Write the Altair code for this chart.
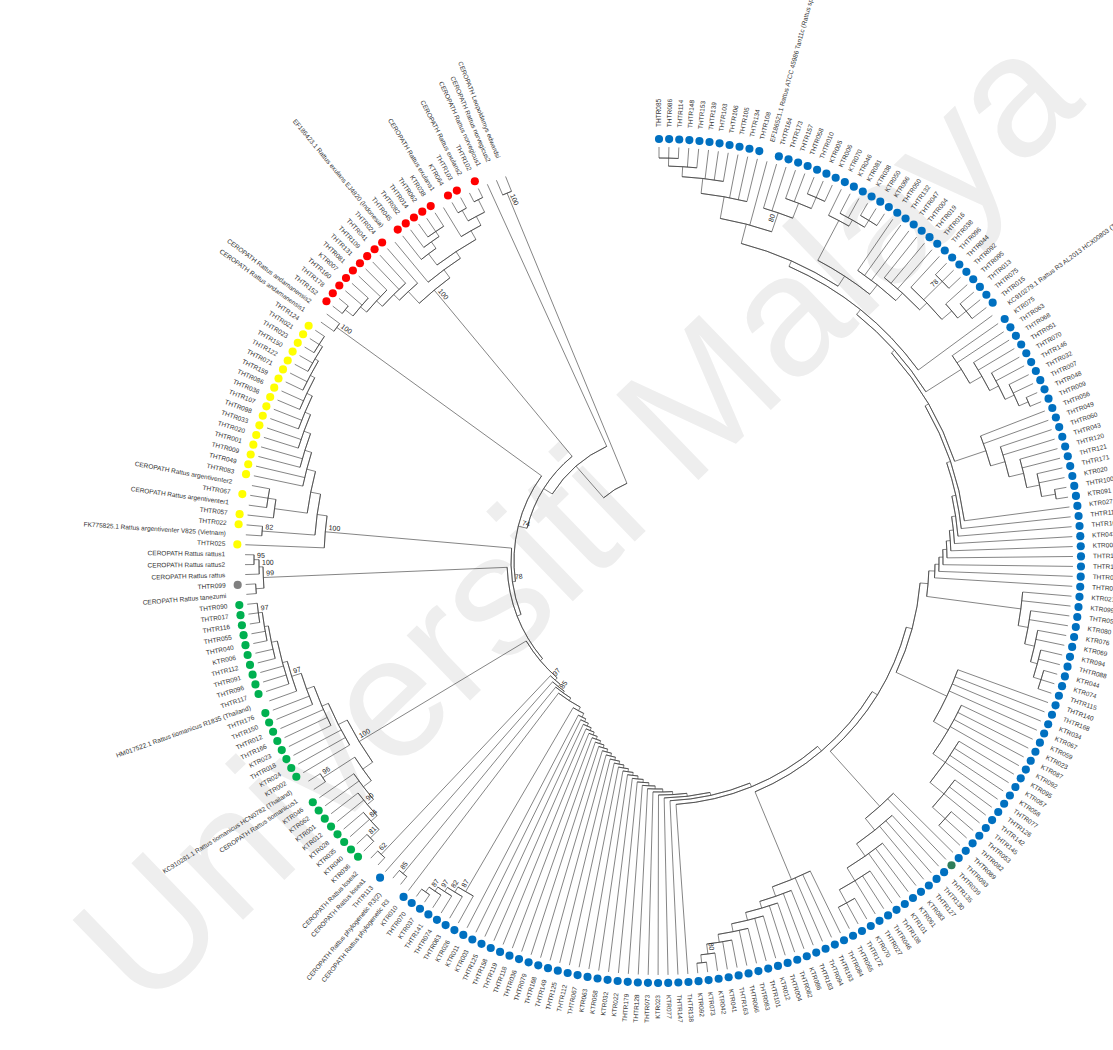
import math
import altair as alt
import pandas as pd

# ---------------- leaves, clockwise from 12 o'clock ----------------
BLUE_TOP = ["THTR085", "THTR086", "THTR114", "THTR148", "THTR153", "THTR139", "THTR103",
            "THTR106", "THTR105", "THTR134", "THTR108"]
REF_EF_SP = ["EF186521.1 Rattus ATCC 45986 Tan11c (Rattus sp)"]
BLUE_UPPER_RIGHT = ["THTR164", "THTR173", "THTR157", "THTR058", "THTR010", "KTR005", "KTR006",
                    "KTR070", "KTR046", "KTR081", "KTR038", "KTR050", "KTR096", "THTR050", "THTR132",
                    "THTR047", "THTR004", "THTR019", "THTR016", "THTR038", "THTR096", "THTR044",
                    "THTR092", "THTR095", "THTR013", "THTR075", "THTR015"]
REF_KC = ["KC910279.1 Rattus R3 AL2013 HCX00803 (Thailand)"]
BLUE_RIGHT = ["KTR075", "THTR063", "THTR068", "THTR051", "THTR070", "THTR146", "THTR032", "THTR007",
              "THTR048", "THTR009", "THTR056", "THTR049", "THTR060", "THTR043", "THTR120", "THTR121",
              "THTR171", "KTR020", "THTR100", "KTR091", "KTR027", "THTR110", "THTR167", "KTR043",
              "KTR004", "THTR180", "THTR104", "THTR079", "THTR080", "KTR021", "KTR099", "THTR054",
              "KTR080", "KTR076", "KTR069", "KTR094", "THTR088", "KTR044", "KTR074", "THTR115"]
BLUE_LOWER_RIGHT_A = ["THTR140", "THTR168", "KTR034", "KTR067", "KTR059", "KTR023", "KTR087",
                      "KTR092", "KTR095", "KTR057", "KTR058", "THTR077", "THTR126", "THTR142",
                      "THTR145", "THTR053", "THTR082", "THTR089", "THTR093"]
BLUE_ODD = ["THTR039"]
BLUE_LOWER_RIGHT_B = ["THTR135", "THTR130", "THTR127", "KTR083", "KTR061", "KTR101", "THTR108",
                      "THTR046", "THTR027", "KTR070", "THTR172", "THTR065", "THTR084", "THTR163",
                      "THTR094", "THTR183", "KTR086", "THTR082", "THTR004", "KTR012", "THTR101",
                      "THTR083", "THTR066", "THTR163", "KTR041", "KTR042", "KTR073", "KTR092"]
BLUE_BOTTOM = ["THTR138", "THTR147", "KTR077", "KTR023", "THTR073", "THTR128", "THTR179", "KTR022",
               "KTR032", "KTR058", "KTR063", "THTR067", "THTR112", "THTR125", "THTR149", "THTR168",
               "THTR079", "THTR036", "THTR118", "THTR119", "THTR158", "THTR125", "KTR003", "KTR011",
               "KTR026", "THTR063", "THTR074", "THTR141", "KTR037", "THTR070", "KTR010"]
REF_R3 = ["CEROPATH Rattus phylogenetic R3", "CEROPATH Rattus phylogenetic R3(2)"]
BLUE_LONE = ["THTR113"]
REF_LOSEA = ["CEROPATH Rattus losea1", "CEROPATH Rattus losea2"]
GREEN_A = ["KTR036", "KTR040", "KTR035", "KTR028", "KTR012", "KTR001", "KTR062", "KTR046"]
REF_TIO = ["CEROPATH Rattus tiomanicus1", "KC910281.1 Rattus tiomanicus HCN0782 (Thailand)"]
GREEN_B = ["KTR002", "KTR024", "THTR018", "KTR023", "THTR166", "THTR012", "THTR150", "THTR176"]
REF_HM = ["HM017522.1 Rattus tiomanicus R1835 (Thailand)"]
GREEN_C = ["THTR117", "THTR096", "THTR091", "THTR112", "KTR006", "THTR040", "THTR055", "THTR116",
           "THTR017", "THTR090"]
REF_TAN = ["CEROPATH Rattus tanezumi"]
GREY = ["THTR099"]
REF_RAT = ["CEROPATH Rattus rattus", "CEROPATH Rattus rattus2", "CEROPATH Rattus rattus1"]
YELLOW_A = ["THTR025"]
REF_FK = ["FK775825.1 Rattus argentiventer V825 (Vietnam)"]
YELLOW_B = ["THTR022", "THTR057"]
REF_ARG1 = ["CEROPATH Rattus argentiventer1"]
YELLOW_C = ["THTR067"]
REF_ARG2 = ["CEROPATH Rattus argentiventer2"]
YELLOW_D = ["THTR083", "THTR049", "THTR009", "THTR001", "THTR020", "THTR033", "THTR098", "THTR107",
            "THTR036", "THTR086", "THTR159", "THTR071", "THTR122", "THTR150", "THTR023", "THTR021",
            "THTR124"]
REF_AND = ["CEROPATH Rattus andamanensis1", "CEROPATH Rattus andamanensis2"]
RED_A = ["THTR152", "THTR178", "THTR160", "KTR007", "THTR081", "THTR131", "THTR109", "THTR041",
         "THTR024"]
REF_EX_EF = ["EF186423.1 Rattus exulans EJ4820 (Indonesia)"]
RED_B = ["THTR045", "THTR082", "THTR014", "THTR062", "KTR038"]
REF_EX1 = ["CEROPATH Rattus exulans1"]
RED_C = ["KTR064", "THTR103"]
REF_EX2 = ["CEROPATH Rattus exulans2"]
RED_D = ["THTR102"]
REF_OUT = ["CEROPATH Rattus norvegicus1", "CEROPATH Rattus norvegicus2", "CEROPATH Leopoldamys edwardsi"]

SEGMENTS = [
    (BLUE_TOP, "blue"), (REF_EF_SP, "ref"), (BLUE_UPPER_RIGHT, "blue"), (REF_KC, "ref"),
    (BLUE_RIGHT, "blue"), (BLUE_LOWER_RIGHT_A, "blue"), (BLUE_ODD, "teal"), (BLUE_LOWER_RIGHT_B, "blue"),
    (BLUE_BOTTOM, "blue"), (REF_R3, "ref"), (BLUE_LONE, "blue"), (REF_LOSEA, "ref"),
    (GREEN_A, "green"), (REF_TIO, "ref"), (GREEN_B, "green"), (REF_HM, "ref"), (GREEN_C, "green"),
    (REF_TAN, "ref"), (GREY, "grey"), (REF_RAT, "ref"), (YELLOW_A, "yellow"), (REF_FK, "ref"),
    (YELLOW_B, "yellow"), (REF_ARG1, "ref"), (YELLOW_C, "yellow"), (REF_ARG2, "ref"), (YELLOW_D, "yellow"),
    (REF_AND, "ref"), (RED_A, "red"), (REF_EX_EF, "ref"), (RED_B, "red"), (REF_EX1, "ref"),
    (RED_C, "red"), (REF_EX2, "ref"), (RED_D, "red"), (REF_OUT, "ref"),
]

GROUP_DOMAIN = ["blue", "teal", "green", "grey", "yellow", "red"]
GROUP_COLORS = ["#0070c0", "#2e7d5b", "#00b050", "#808080", "#ffff00", "#ff0000"]

# ---------------- clades: (first leaf, last leaf, node depth, bootstrap) ----------------
CLADES = [
    (0, 246, 84, ""), (245, 246, 398, "100"), (0, 244, 126, ""), (0, 243, 136, ""),
    (224, 243, 352, "100"), (224, 232, 368, ""), (224, 231, 376, ""), (224, 229, 384, ""),
    (224, 227, 392, ""), (224, 225, 402, ""), (233, 243, 362, ""), (234, 243, 370, ""),
    (234, 238, 384, ""), (235, 238, 392, ""), (236, 238, 398, ""), (239, 243, 380, ""),
    (240, 243, 390, ""), (240, 241, 402, ""), (242, 243, 404, ""),
    (0, 223, 145, "74"), (222, 223, 398, "100"), (0, 221, 148, "78"),
    (198, 221, 335, "100"), (199, 221, 345, ""), (199, 200, 398, "82"), (201, 221, 355, ""),
    (201, 204, 388, ""), (202, 204, 396, ""), (205, 221, 364, ""), (207, 221, 371, ""),
    (209, 221, 378, ""), (211, 221, 384, ""), (213, 221, 390, ""), (215, 221, 395, ""),
    (217, 221, 399, ""), (219, 221, 403, ""),
    (0, 197, 152, ""), (193, 197, 396, "99"), (193, 194, 404, ""), (195, 197, 400, "100"),
    (196, 197, 405, "95"),
    (0, 192, 155, ""), (164, 192, 350, "100"), (174, 192, 360, ""), (177, 192, 367, ""),
    (180, 192, 375, ""), (182, 192, 385, "97"), (183, 192, 390, ""), (186, 192, 396, ""),
    (188, 192, 400, ""), (190, 192, 404, "97"), (164, 173, 362, ""), (164, 171, 372, ""),
    (164, 169, 380, "90"), (164, 167, 388, "84"), (164, 165, 400, "81"), (172, 173, 400, "96"),
    (0, 163, 158, "97"), (162, 163, 404, "62"), (0, 161, 161, ""), (0, 160, 163, "85"),
    (159, 160, 404, "85"), (0, 158, 166, ""),
    (152, 157, 383, "87"), (153, 157, 389, "82"), (154, 157, 394, "97"), (155, 157, 399, "87"),
    (156, 157, 405, ""),
    (0, 157, 170, ""), (0, 151, 174, ""), (0, 150, 177, ""), (0, 149, 180, ""), (0, 148, 183, ""),
    (0, 147, 186, ""), (0, 146, 189, ""), (0, 145, 192, ""), (0, 144, 195, ""), (0, 143, 198, ""),
    (0, 142, 201, ""), (0, 141, 204, ""), (0, 140, 207, ""), (0, 139, 210, ""), (0, 138, 213, ""),
    (0, 137, 216, ""), (0, 136, 219, ""), (0, 135, 222, ""), (0, 134, 225, ""), (0, 133, 228, ""),
    (0, 132, 231, ""), (0, 131, 234, ""), (0, 130, 237, ""), (0, 129, 240, ""), (0, 128, 244, ""),
    (0, 127, 250, ""), (112, 127, 345, ""), (115, 127, 355, ""), (117, 127, 362, ""),
    (119, 127, 370, ""), (121, 127, 378, ""), (123, 127, 386, ""), (125, 127, 396, "80"),
    (126, 127, 404, ""),
    (0, 111, 256, ""), (98, 111, 330, ""), (100, 111, 345, ""), (103, 111, 360, ""),
    (106, 111, 375, ""), (109, 111, 390, ""),
    (0, 97, 262, ""), (80, 97, 318, ""), (84, 97, 335, ""), (88, 97, 350, ""), (92, 97, 368, ""),
    (95, 97, 385, ""),
    (0, 79, 270, ""), (69, 79, 365, ""), (71, 79, 375, ""), (73, 79, 385, ""), (75, 79, 392, ""),
    (77, 79, 400, ""),
    (0, 68, 276, ""), (0, 67, 280, ""), (0, 66, 284, ""), (0, 65, 288, ""), (0, 64, 292, ""),
    (0, 63, 296, ""), (0, 62, 300, ""), (0, 61, 304, ""), (0, 60, 308, ""), (0, 59, 312, ""),
    (50, 59, 345, ""), (52, 59, 360, ""), (54, 59, 375, ""), (56, 59, 388, ""), (58, 59, 402, ""),
    (0, 49, 316, ""), (40, 49, 358, ""), (42, 49, 372, ""), (44, 49, 382, ""), (46, 49, 392, ""),
    (48, 49, 402, ""),
    (0, 39, 322, ""), (0, 38, 328, ""), (19, 38, 340, ""), (19, 24, 385, ""), (20, 24, 392, ""),
    (22, 24, 400, ""), (25, 38, 352, ""), (28, 38, 362, ""), (31, 38, 372, ""), (32, 34, 398, "78"),
    (35, 38, 385, ""), (36, 38, 396, ""),
    (0, 18, 348, ""), (12, 18, 368, "80"), (14, 18, 384, ""), (16, 18, 396, ""),
    (0, 10, 370, ""), (0, 7, 385, ""), (0, 4, 395, ""), (0, 2, 403, ""),
]

WATERMARK = "Universiti Malaya"

# ---------------- layout ----------------
STEP = 1.375      # degrees between neighbouring leaves
R_DOT = 422
R_TIP = 414
R_LAB = 434
CX, CY = 659, 561
W, H = 1113, 1050

labels, groups = [], []
for names, g in SEGMENTS:
    for n in names:
        labels.append(n)
        groups.append(g)
N = len(labels)
theta = [i * STEP for i in range(N)]

cl = sorted(CLADES, key=lambda c: c[1] - c[0])


def container(lo, hi, skip):
    for k, (a, b, r, s) in enumerate(cl):
        if k != skip and a <= lo and hi <= b and (b - a) > (hi - lo):
            return k
    return None


leaf_parent = [container(i, i, None) for i in range(N)]
clade_parent = [container(c[0], c[1], k) for k, c in enumerate(cl)]
leaf_kids = {k: [] for k in range(len(cl))}
clade_kids = {k: [] for k in range(len(cl))}
for i, p in enumerate(leaf_parent):
    leaf_kids[p].append(i)
for k, p in enumerate(clade_parent):
    if p is not None:
        clade_kids[p].append(k)

anchor = [0.0] * len(cl)
arc_rows = []
for k in range(len(cl)):
    angs = [theta[i] for i in leaf_kids[k]] + [anchor[j] for j in clade_kids[k]]
    anchor[k] = (min(angs) + max(angs)) / 2
    arc_rows.append({"t0": min(angs), "t1": max(angs), "r": cl[k][2]})

seg_rows = []
for i in range(N):
    seg_rows.append({"t": theta[i], "r0": cl[leaf_parent[i]][2], "r1": R_TIP})
for k in range(len(cl)):
    p = clade_parent[k]
    if p is not None:
        seg_rows.append({"t": anchor[k], "r0": cl[p][2], "r1": cl[k][2]})

boot_rows = [{"t": anchor[k], "r": cl[k][2] - 3, "s": cl[k][3]} for k in range(len(cl)) if cl[k][3]]

seg_df = pd.DataFrame(seg_rows)
arc_df = pd.DataFrame(arc_rows)
leaf_df = pd.DataFrame({"label": labels, "group": groups, "theta": theta})
boot_df = pd.DataFrame(boot_rows)

XS = alt.Scale(domain=[-CX, W - CX], nice=False, zero=False)
YS = alt.Scale(domain=[CY - H, CY], nice=False, zero=False)
SIN = "sin(datum.{a} * PI / 180)"
COS = "cos(datum.{a} * PI / 180)"

wm = alt.Chart(pd.DataFrame({"t": [WATERMARK]})).mark_text(
    angle=316, fontSize=172, color="#eeeeee", font="Liberation Sans",
    align="center", baseline="middle"
).encode(text="t:N", x=alt.value(580), y=alt.value(522))

arcs = alt.Chart(arc_df).mark_arc(filled=False, color="#333333", strokeWidth=0.6).encode(
    theta=alt.Theta("t0:Q", scale=alt.Scale(domain=[0, 360], range=[0, 2 * math.pi])),
    theta2="t1:Q",
    radius=alt.Radius("r:Q", scale=alt.Scale(type="linear", domain=[0, 500], range=[0, 500])),
    radius2="r:Q",
    x=alt.value(CX), y=alt.value(CY),
)

branches = alt.Chart(seg_df).transform_calculate(
    xa="datum.r0 * " + SIN.format(a="t"), ya="datum.r0 * " + COS.format(a="t"),
    xb="datum.r1 * " + SIN.format(a="t"), yb="datum.r1 * " + COS.format(a="t"),
).mark_rule(color="#333333", strokeWidth=0.6).encode(
    x=alt.X("xa:Q", scale=XS, axis=None), y=alt.Y("ya:Q", scale=YS, axis=None),
    x2="xb:Q", y2="yb:Q",
)

dots = alt.Chart(leaf_df).transform_filter("datum.group != 'ref'").transform_calculate(
    x=f"{R_DOT} * " + SIN.format(a="theta"), y=f"{R_DOT} * " + COS.format(a="theta"),
).mark_circle(size=66, opacity=1).encode(
    x=alt.X("x:Q", scale=XS, axis=None), y=alt.Y("y:Q", scale=YS, axis=None),
    color=alt.Color("group:N", scale=alt.Scale(domain=GROUP_DOMAIN, range=GROUP_COLORS), legend=None),
)

lab_base = alt.Chart(leaf_df).transform_calculate(
    x=f"{R_LAB} * " + SIN.format(a="theta"), y=f"{R_LAB} * " + COS.format(a="theta"),
    ang="datum.theta < 180 ? (datum.theta + 270) % 360 : (datum.theta + 90) % 360",
)
lab_enc = dict(
    x=alt.X("x:Q", scale=XS, axis=None), y=alt.Y("y:Q", scale=YS, axis=None),
    text="label:N", angle=alt.Angle("ang:Q", scale=None),
)
lab_right = lab_base.transform_filter("datum.theta < 180").mark_text(
    align="left", baseline="middle", fontSize=6.5, font="Liberation Sans", color="#333333"
).encode(**lab_enc)
lab_left = lab_base.transform_filter("datum.theta >= 180").mark_text(
    align="right", baseline="middle", fontSize=6.5, font="Liberation Sans", color="#333333"
).encode(**lab_enc)

boot_base = alt.Chart(boot_df).transform_calculate(
    x="datum.r * " + SIN.format(a="t"), y="datum.r * " + COS.format(a="t"),
    ang="datum.t < 180 ? (datum.t + 270) % 360 : (datum.t + 90) % 360",
)
boot_enc = dict(
    x=alt.X("x:Q", scale=XS, axis=None), y=alt.Y("y:Q", scale=YS, axis=None),
    text="s:N", angle=alt.Angle("ang:Q", scale=None),
)
boot_right = boot_base.transform_filter("datum.t < 180").mark_text(
    align="right", baseline="bottom", dy=-1, fontSize=7, font="Liberation Sans", color="#222222"
).encode(**boot_enc)
boot_left = boot_base.transform_filter("datum.t >= 180").mark_text(
    align="left", baseline="bottom", dy=-1, fontSize=7, font="Liberation Sans", color="#222222"
).encode(**boot_enc)

chart = alt.layer(
    wm, arcs, branches, dots, lab_right, lab_left, boot_right, boot_left
).properties(
    width=W, height=H, padding=0, autosize=alt.AutoSizeParams(type="none")
).configure_view(strokeWidth=0)

chart.save("out.html", embed_options={"renderer": "svg", "actions": False})
